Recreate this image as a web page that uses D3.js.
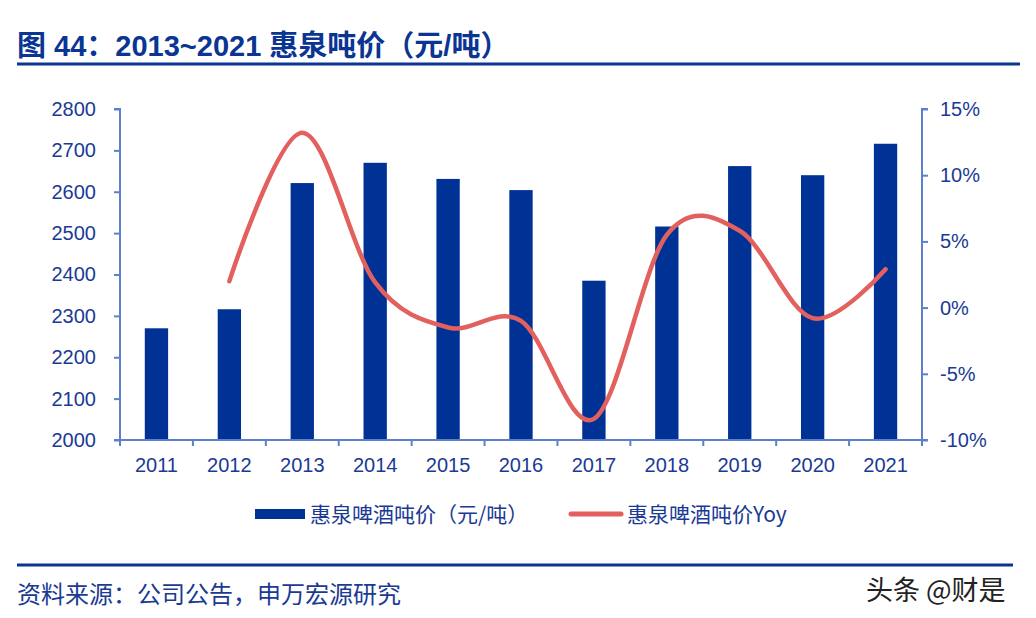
<!DOCTYPE html>
<html>
<head>
<meta charset="utf-8">
<script src="https://cdn.jsdelivr.net/npm/d3@7"></script>
<style>
  body { margin: 0; background: #fff; }
  svg { display: block; font-family: "Liberation Sans", Arial, "Noto Sans CJK SC", sans-serif; }
</style>
</head>
<body>
<svg id="chart"></svg>
<script>
// data
const years = ["2011", "2012", "2013", "2014", "2015", "2016", "2017", "2018", "2019", "2020", "2021"]
const pricePerTon = [2270, 2316, 2621, 2670, 2631, 2604, 2385, 2516, 2662, 2640, 2716]
const priceYoy = [null, 2.0, 13.2, 1.9, -1.5, -1.0, -8.4, 5.5, 5.8, -0.8, 2.9]
const leftTicks = [2000, 2100, 2200, 2300, 2400, 2500, 2600, 2700, 2800]
const rightTicks = [-10, -5, 0, 5, 10, 15]

const width = 1036
const height = 618
const margin = { top: 109, bottom: 178, left: 120, right: 114 }
const bodyWidth = width - margin.left - margin.right
const bodyHeight = height - margin.top - margin.bottom

const textBlue = "#1a3a94"
const axisBlue = "#5d80cc"
const barBlue = "#003296"
const lineRed = "#e2605e"

const svg = d3.select("#chart")
    .attr("width", width)
    .attr("height", height)

// title + rule
svg.append("text")
    .attr("x", 17)
    .attr("y", 56)
    .attr("fill", "#0a3592")
    .style("font-size", "29px")
    .style("font-weight", "bold")
    .text("图 44：2013~2021 惠泉吨价（元/吨）")

svg.append("line")
    .attr("x1", 17).attr("x2", 1020)
    .attr("y1", 64).attr("y2", 64)
    .attr("stroke", "#0a3592")
    .attr("stroke-width", 3)

let xScale = d3.scaleBand()
    .domain(years)
    .range([0, bodyWidth])
    .paddingInner(0.68)
    .paddingOuter(0.34)

let yLeft = d3.scaleLinear()
    .domain([2000, 2800])
    .range([bodyHeight, 0])

let yRight = d3.scaleLinear()
    .domain([-10, 15])
    .range([bodyHeight, 0])

let body = svg.append("g")
    .attr("transform", `translate(${margin.left},${margin.top})`)

// bars
body.selectAll(".bar")
    .data(years.map((y, i) => ({ year: y, value: pricePerTon[i] })))
    .enter()
    .append("rect")
    .attr("class", "bar")
    .attr("x", d => xScale(d.year))
    .attr("y", d => yLeft(d.value))
    .attr("width", xScale.bandwidth())
    .attr("height", d => bodyHeight - yLeft(d.value))
    .attr("fill", barBlue)

// yoy line
let line = d3.line()
    .defined(d => d.value != null)
    .x(d => xScale(d.year) + xScale.bandwidth() / 2)
    .y(d => yRight(d.value))
    .curve(d3.curveCardinal.tension(0))

body.append("path")
    .datum(years.map((y, i) => ({ year: y, value: priceYoy[i] })).filter(d => d.value != null))
    .attr("d", line)
    .attr("fill", "none")
    .attr("stroke", lineRed)
    .attr("stroke-width", 4.5)
    .attr("stroke-linecap", "round")

// axes
let leftAxis = d3.axisLeft(yLeft)
    .tickValues(leftTicks)
    .tickSize(6)
    .tickPadding(18)
    .tickFormat(d3.format("d"))

let rightAxis = d3.axisRight(yRight)
    .tickValues(rightTicks)
    .tickSize(6)
    .tickPadding(12)
    .tickFormat(d => d + "%")

let bottomAxis = d3.axisBottom(xScale)
    .tickSize(0)
    .tickPadding(18)

let gl = body.append("g").call(leftAxis)
let gr = body.append("g").attr("transform", `translate(${bodyWidth},0)`).call(rightAxis)
let gb = body.append("g").attr("transform", `translate(0,${bodyHeight})`).call(bottomAxis)

// x ticks between categories
let step = xScale.step()
let boundaries = years.map(y => xScale(y) - (step - xScale.bandwidth()) / 2)
boundaries.push(bodyWidth)
gb.selectAll(".sep")
    .data(boundaries)
    .enter()
    .append("line")
    .attr("class", "sep")
    .attr("x1", d => d).attr("x2", d => d)
    .attr("y1", 0).attr("y2", 6)

for (let g of [gl, gr, gb])
{
    g.select(".domain").attr("stroke", axisBlue).attr("stroke-width", 2)
    g.selectAll("line").attr("stroke", axisBlue).attr("stroke-width", 2)
    g.selectAll("text")
        .attr("fill", textBlue)
        .style("font-size", "20px")
        .style("font-family", "'Liberation Sans', Arial, sans-serif")
}
gl.select(".domain").attr("d", `M-6,${bodyHeight}H0V0H-6`)
gr.select(".domain").attr("d", `M6,${bodyHeight}H0V0H6`)
gb.select(".domain").attr("d", `M0,0H${bodyWidth}`)

// legend
let legend = svg.append("g")
legend.append("rect")
    .attr("x", 255).attr("y", 509)
    .attr("width", 50).attr("height", 10)
    .attr("fill", barBlue)
legend.append("text")
    .attr("x", 310).attr("y", 522)
    .attr("fill", textBlue)
    .style("font-size", "21px")
    .style("font-family", "'Noto Sans CJK SC', sans-serif")
    .text("惠泉啤酒吨价（元/吨）")
legend.append("line")
    .attr("x1", 571).attr("x2", 621)
    .attr("y1", 514).attr("y2", 514)
    .attr("stroke", lineRed)
    .attr("stroke-width", 5)
    .attr("stroke-linecap", "round")
legend.append("text")
    .attr("x", 627).attr("y", 522)
    .attr("fill", textBlue)
    .style("font-size", "21px")
    .style("font-family", "'Noto Sans CJK SC', sans-serif")
    .text("惠泉啤酒吨价Yoy")

// footer
svg.append("line")
    .attr("x1", 17).attr("x2", 1013)
    .attr("y1", 565).attr("y2", 565)
    .attr("stroke", "#0a3592")
    .attr("stroke-width", 3)

svg.append("text")
    .attr("x", 17).attr("y", 603)
    .attr("fill", textBlue)
    .style("font-size", "24px")
    .style("font-family", "'Noto Sans CJK SC', sans-serif")
    .text("资料来源：公司公告，申万宏源研究")

svg.append("text")
    .attr("x", 866).attr("y", 600)
    .attr("fill", "#222")
    .style("font-size", "27px")
    .style("font-family", "'Noto Sans CJK SC', sans-serif")
    .text("头条 @财是")
</script>
</body>
</html>
